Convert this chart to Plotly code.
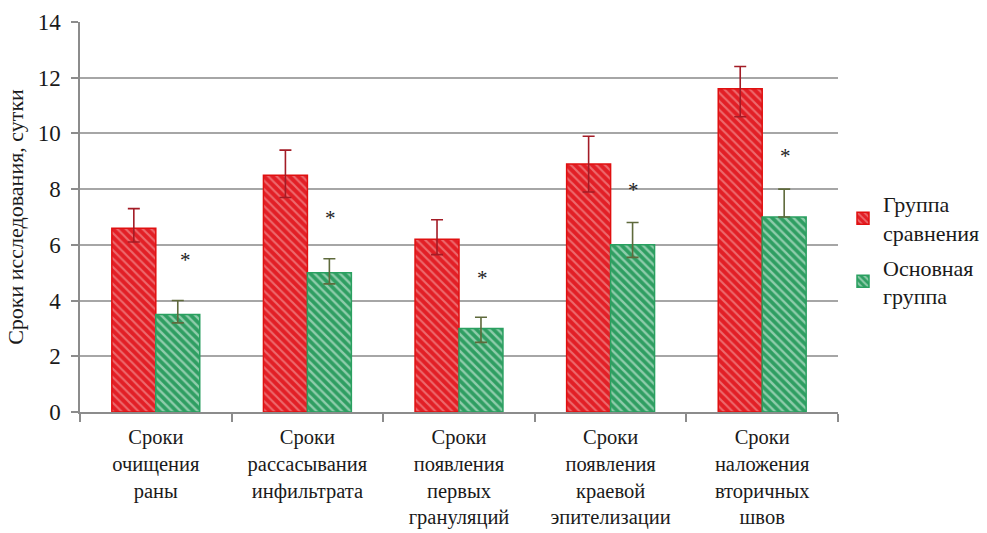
import plotly.graph_objects as go

# Categories (multi-line labels)
categories = [
    "Сроки<br>очищения<br>раны",
    "Сроки<br>рассасывания<br>инфильтрата",
    "Сроки<br>появления<br>первых<br>грануляций",
    "Сроки<br>появления<br>краевой<br>эпителизации",
    "Сроки<br>наложения<br>вторичных<br>швов",
]

# Group values, days
comparison_vals = [6.6, 8.5, 6.2, 8.9, 11.6]
comparison_err_plus = [0.7, 0.9, 0.7, 1.0, 0.8]
comparison_err_minus = [0.5, 0.8, 0.55, 1.0, 1.0]

main_vals = [3.5, 5.0, 3.0, 6.0, 7.0]
main_err_plus = [0.5, 0.5, 0.4, 0.8, 1.0]
main_err_minus = [0.3, 0.4, 0.5, 0.45, 0.0]

# Significance marker levels
star_levels = [5.6, 7.1, 4.95, 8.1, 9.35]

y_ticks = [0, 2, 4, 6, 8, 10, 12, 14]

FONT = "'Times New Roman', 'Liberation Serif', serif"
TXT = "#1a1a1a"

fig = go.Figure()

fig.add_trace(go.Bar(
    name="Группа<br>сравнения",
    legendgroup="cmp",
    x=categories,
    y=comparison_vals,
    marker=dict(
        color="#e21f26",
        line=dict(color="#e01010", width=1.5),
        pattern=dict(shape="\\", fgcolor="#f8b4b4", bgcolor="#e21f26",
                     size=6, solidity=0.35, fillmode="overlay"),
    ),
    error_y=dict(type="data", symmetric=False,
                 array=comparison_err_plus, arrayminus=comparison_err_minus,
                 color="#a31c26", thickness=1.6, width=6),
))

fig.add_trace(go.Bar(
    name="Основная<br>группа",
    legendgroup="main",
    x=categories,
    y=main_vals,
    marker=dict(
        color="#2f9e62",
        line=dict(color="#2aa060", width=1.5),
        pattern=dict(shape="\\", fgcolor="#eefaf3", bgcolor="#2f9e62",
                     size=6, solidity=0.4, fillmode="overlay"),
    ),
    error_y=dict(type="data", symmetric=False,
                 array=main_err_plus, arrayminus=main_err_minus,
                 color="#5f6a3c", thickness=1.6, width=6),
))

# Asterisks marking significant differences
for i, (cat, lvl) in enumerate(zip(categories, star_levels)):
    fig.add_annotation(
        x=cat, y=lvl, text="*", showarrow=False,
        xref="x", yref="y", xshift=30 if i == 0 else 23, yshift=-4,
        font=dict(family=FONT, size=21, color="#222222"),
    )

fig.update_layout(
    width=987, height=533,
    margin=dict(l=80, r=149, t=22, b=121, autoexpand=False),
    paper_bgcolor="white", plot_bgcolor="white",
    barmode="group", bargap=0.42, bargroupgap=0,
    font=dict(family=FONT, size=21, color=TXT),
    showlegend=True,
    legend=dict(
        x=1.0066, y=0.587, xanchor="left", yanchor="top",
        font=dict(family=FONT, size=22, color=TXT),
        itemwidth=30, tracegroupgap=3, traceorder="grouped",
        bgcolor="rgba(0,0,0,0)",
    ),
)

fig.update_xaxes(
    tickson="boundaries", ticks="outside", ticklen=8, tickcolor="#8c8c8c",
    tickwidth=1.5, ticklabelstandoff=6,
    showline=True, linecolor="#8c8c8c", linewidth=1.5,
    showgrid=False,
    tickfont=dict(family=FONT, size=20.5, color=TXT),
)

fig.update_yaxes(
    range=[0, 14], tickvals=y_ticks,
    ticks="outside", ticklen=7, tickcolor="#8c8c8c", tickwidth=1.5,
    ticklabelstandoff=6,
    showline=True, linecolor="#8c8c8c", linewidth=1.5,
    showgrid=True, gridcolor="#a6a6a6", gridwidth=1.5,
    zeroline=False,
    tickfont=dict(family=FONT, size=23, color=TXT),
    title=dict(text="Сроки исследования, сутки",
               font=dict(family=FONT, size=22, color=TXT),
               standoff=8),
)

fig.write_html("out.html")
